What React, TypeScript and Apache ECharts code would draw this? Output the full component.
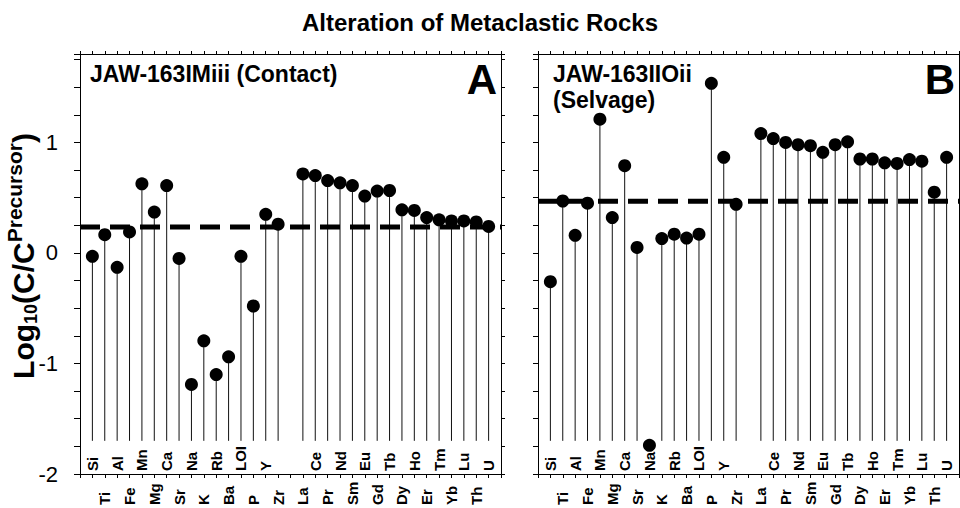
import React, { useEffect, useRef } from 'react';
import * as echarts from 'echarts';

// Element order along the x axis; the empty slot separates the REE group.
const elements = [
  'Si', 'Ti', 'Al', 'Fe', 'Mn', 'Mg', 'Ca', 'Sr', 'Na', 'K', 'Rb', 'Ba', 'LOI', 'P', 'Y', 'Zr', '',
  'La', 'Ce', 'Pr', 'Nd', 'Sm', 'Eu', 'Gd', 'Tb', 'Dy', 'Ho', 'Er', 'Tm', 'Yb', 'Lu', 'Th', 'U',
];

// log10(C / C precursor) for the contact sample
const contactValues = [
  -0.03, 0.165, -0.13, 0.19, 0.625, 0.37, 0.61, -0.05, -1.19, -0.795, -1.10, -0.94, -0.03, -0.48, 0.35, 0.26, null,
  0.715, 0.70, 0.655, 0.635, 0.61, 0.515, 0.56, 0.565, 0.39, 0.385, 0.32, 0.30, 0.29, 0.29, 0.28, 0.24,
];

// log10(C / C precursor) for the selvage sample
const selvageValues = [
  -0.26, 0.47, 0.16, 0.45, 1.21, 0.32, 0.79, 0.05, -1.74, 0.13, 0.17, 0.135, 0.17, 1.535, 0.865, 0.44, null,
  1.08, 1.035, 1.0, 0.98, 0.97, 0.91, 0.98, 1.005, 0.85, 0.85, 0.815, 0.81, 0.845, 0.83, 0.55, 0.865,
];

// Isocon (mass-balance reference) levels for each sample
const contactIsocon = 0.234;
const selvageIsocon = 0.468;

// Lower end of the drop lines
const stemBase = -1.7;

const panels = [
  { values: contactValues, isocon: contactIsocon, left: 80 },
  { values: selvageValues, isocon: selvageIsocon, left: 538 },
];

const FONT = '"Liberation Sans", Arial, Helvetica, sans-serif';

function isInt(v: number) {
  return Math.abs(v - Math.round(v)) < 1e-6;
}

export default function App() {
  const ref = useRef<HTMLDivElement>(null);

  useEffect(() => {
    if (!ref.current) return;
    const chart = echarts.init(ref.current, undefined, { renderer: 'svg' });

    const grid: any[] = [];
    const xAxis: any[] = [];
    const yAxis: any[] = [];
    const series: any[] = [];

    panels.forEach((p, g) => {
      grid.push({ left: p.left, top: 54, width: 421, height: 422, containLabel: false });

      const xBase = {
        gridIndex: g,
        type: 'value',
        min: -1,
        max: 33,
        interval: 1,
        splitLine: { show: false },
      };
      // bottom axis: odd-slot labels below the axis
      xAxis.push({
        ...xBase,
        position: 'bottom',
        axisLine: { show: true, onZero: false, lineStyle: { color: '#000', width: 1 } },
        axisTick: { show: true, length: 4, lineStyle: { color: '#000', width: 1 } },
        axisLabel: {
          show: true,
          rotate: 90,
          align: 'left',
          margin: 31,
          fontSize: 15,
          fontWeight: 'bold',
          fontFamily: FONT,
          color: '#000',
          formatter: (v: number) => {
            const i = Math.round(v);
            return i >= 0 && i % 2 === 1 ? elements[i] : '';
          },
        },
      });
      // bottom axis: even-slot labels just inside the plot
      xAxis.push({
        ...xBase,
        position: 'bottom',
        axisLine: { show: false, onZero: false },
        axisTick: { show: false },
        axisLabel: {
          show: true,
          inside: true,
          rotate: 90,
          margin: 3,
          fontSize: 15,
          fontWeight: 'bold',
          fontFamily: FONT,
          color: '#000',
          formatter: (v: number) => {
            const i = Math.round(v);
            return i >= 0 && i % 2 === 0 ? elements[i] : '';
          },
        },
      });
      // top frame with ticks
      xAxis.push({
        ...xBase,
        position: 'top',
        axisLine: { show: true, onZero: false, lineStyle: { color: '#000', width: 1 } },
        axisTick: { show: true, length: 3, lineStyle: { color: '#000', width: 1 } },
        axisLabel: { show: false },
      });

      const yBase = {
        gridIndex: g,
        type: 'value',
        min: -2,
        max: 1.8,
        interval: 0.25,
        splitLine: { show: false },
      };
      yAxis.push({
        ...yBase,
        position: 'left',
        axisLine: { show: true, onZero: false, lineStyle: { color: '#000', width: 1 } },
        axisTick: { show: true, length: g === 0 ? 6 : 5, lineStyle: { color: '#000', width: 1 } },
        axisLabel: {
          show: g === 0,
          margin: 22,
          fontSize: 22,
          fontFamily: FONT,
          color: '#000',
          formatter: (v: number) => (isInt(v) ? String(Math.round(v)) : ''),
        },
      });
      yAxis.push({
        ...yBase,
        position: 'right',
        axisLine: { show: true, onZero: false, lineStyle: { color: '#000', width: 1 } },
        axisTick: { show: true, length: 4, lineStyle: { color: '#000', width: 1 } },
        axisLabel: { show: false },
      });

      const pts = p.values
        .map((v, i) => (v === null ? null : [i, v]))
        .filter((d) => d !== null) as number[][];

      // drop lines
      series.push({
        type: 'custom',
        xAxisIndex: g * 3,
        yAxisIndex: g * 2,
        z: 2,
        silent: true,
        encode: { x: 0, y: 1 },
        data: pts,
        renderItem: (_params: any, api: any) => {
          const x = api.value(0);
          const y = api.value(1);
          const top = api.coord([x, y]);
          const bottom = api.coord([x, stemBase]);
          return {
            type: 'line',
            shape: { x1: bottom[0], y1: bottom[1], x2: top[0], y2: top[1] },
            style: { stroke: '#111', lineWidth: 1 },
          };
        },
      });
      // isocon
      series.push({
        type: 'line',
        xAxisIndex: g * 3,
        yAxisIndex: g * 2,
        z: 3,
        silent: true,
        symbol: 'none',
        data: [
          [-1, p.isocon],
          [33, p.isocon],
        ],
        lineStyle: { color: '#000', width: 5, type: [20, 10], cap: 'butt', opacity: 1 },
      });
      // markers
      series.push({
        type: 'scatter',
        xAxisIndex: g * 3,
        yAxisIndex: g * 2,
        z: 4,
        silent: true,
        symbol: 'circle',
        symbolSize: 13,
        itemStyle: { color: '#000', opacity: 1 },
        data: pts,
      });
    });

    chart.setOption({
      animation: false,
      backgroundColor: '#fff',
      grid,
      xAxis,
      yAxis,
      series,
      graphic: [
        {
          type: 'text',
          x: 480,
          y: 22,
          style: {
            text: 'Alteration of Metaclastic Rocks',
            fontSize: 24,
            fontWeight: 'bold',
            fontFamily: FONT,
            fill: '#000',
            align: 'center',
            verticalAlign: 'middle',
          },
        },
        {
          type: 'text',
          x: 23,
          y: 256,
          rotation: Math.PI / 2,
          style: {
            text: '{m|Log}{sub|10}{m|(C/C}{sup|Precursor}{m|)}',
            align: 'center',
            verticalAlign: 'middle',
            fill: '#000',
            rich: {
              m: { fontSize: 30, fontWeight: 'bold', fontFamily: FONT, lineHeight: 46, verticalAlign: 'middle' },
              sub: { fontSize: 18, fontWeight: 'bold', fontFamily: FONT, verticalAlign: 'bottom', padding: [0, 0, 6, 0] },
              sup: { fontSize: 21, fontWeight: 'bold', fontFamily: FONT, verticalAlign: 'top', padding: [4, 0, 0, 0] },
            },
          },
        },
        {
          type: 'text',
          x: 90,
          y: 74,
          style: {
            text: 'JAW-163IMiii (Contact)',
            fontSize: 23,
            fontWeight: 'bold',
            fontFamily: FONT,
            fill: '#000',
            align: 'left',
            verticalAlign: 'middle',
          },
        },
        {
          type: 'text',
          x: 497,
          y: 79,
          style: {
            text: 'A',
            fontSize: 42,
            fontWeight: 'bold',
            fontFamily: FONT,
            fill: '#000',
            align: 'right',
            verticalAlign: 'middle',
          },
        },
        {
          type: 'text',
          x: 553,
          y: 87,
          style: {
            text: 'JAW-163IIOii\n(Selvage)',
            fontSize: 23,
            lineHeight: 26,
            fontWeight: 'bold',
            fontFamily: FONT,
            fill: '#000',
            align: 'left',
            verticalAlign: 'middle',
          },
        },
        {
          type: 'text',
          x: 955,
          y: 79,
          style: {
            text: 'B',
            fontSize: 42,
            fontWeight: 'bold',
            fontFamily: FONT,
            fill: '#000',
            align: 'right',
            verticalAlign: 'middle',
          },
        },
      ],
    });

    return () => {
      chart.dispose();
    };
  }, []);

  return (
    <div
      ref={ref}
      style={{ position: 'fixed', left: 0, top: 0, width: 960, height: 508, background: '#fff' }}
    />
  );
}
